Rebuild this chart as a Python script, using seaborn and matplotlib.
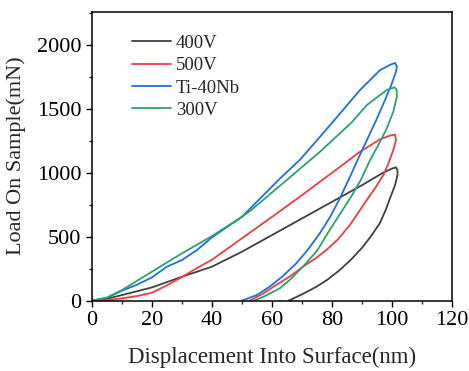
import numpy as np
import pandas as pd
import matplotlib
matplotlib.use("Agg")
import matplotlib.pyplot as plt
from matplotlib.ticker import MultipleLocator
import seaborn as sns

# load-displacement curves (loading then unloading)
disp_400v = [0, 5, 10, 20, 30, 40, 50, 60, 70, 80, 90, 97, 100, 101.3,
             101.8, 101.8, 101.0, 99.3, 97.8, 95.9, 93.0, 90.3, 86.5, 82.6, 78.5, 74.8, 70.0, 65.5]
load_400v = [0, 15, 44, 104, 187, 266, 383, 513, 643, 773, 903, 1000, 1033, 1042,
             1020, 982, 904, 800, 705, 605, 505, 422, 325, 240, 165, 109, 50, 0]

disp_500v = [0, 5, 10, 15, 20, 25, 30, 35, 40, 50, 60, 70, 76, 82.7, 89.3, 96, 99.5, 101,
             101.3, 100.4, 98.8, 97.1, 94.3, 91.6, 88.5, 85.9, 82.0, 78.1, 74.5, 70.3, 66.0, 61.4, 57.0, 52.5]
load_500v = [0, 4, 18, 36, 62, 120, 185, 255, 320, 488, 655, 825, 930, 1047, 1164, 1261, 1292, 1298,
             1256, 1177, 1073, 982, 878, 787, 680, 590, 480, 396, 330, 266, 190, 123, 55, 0]

disp_ti40nb = [0, 5, 10, 15, 20, 25, 30, 35, 40, 50, 62.7, 69.2, 76, 82.7, 89.3, 96, 99.5, 101,
               101.6, 101.3, 99.8, 97.5, 94.5, 91.5, 88.5, 86, 82.7, 79.5, 75.9, 72.0, 68.1,
               63.5, 59.2, 55.0, 50]
load_ti40nb = [0, 22, 78, 125, 182, 266, 318, 396, 495, 656, 956, 1099, 1281, 1464, 1646, 1802, 1845, 1858,
               1830, 1790, 1690, 1560, 1400, 1250, 1100, 969, 805, 660, 526, 400, 292,
               190, 109, 45, 0]

disp_300v = [0, 5, 10, 20, 30, 40, 50, 52.8, 64.9, 76, 82.7, 86.6, 91.6, 98.2, 100.8,
             101.5, 101.6, 100.4, 98.2, 95.5, 92.7, 89.5, 86.8, 83.0, 79.2, 75.0, 70.3,
             66.5, 62.6, 58.0, 54]
load_300v = [0, 25, 83, 227, 370, 505, 656, 703, 943, 1164, 1310, 1395, 1529, 1646, 1668,
             1650, 1594, 1477, 1345, 1220, 1100, 940, 830, 690, 552, 390, 266,
             175, 97, 40, 0]

labels = ["400V", "500V", "Ti-40Nb", "300V"]
colors = ["#404040", "#f03c3c", "#1e6ee6", "#2ba36a"]

curves = [(disp_400v, load_400v), (disp_500v, load_500v),
          (disp_ti40nb, load_ti40nb), (disp_300v, load_300v)]

sns.set_theme(style="ticks")
plt.rcParams["font.family"] = ["Liberation Serif", "DejaVu Serif"]

fig = plt.figure(figsize=(4.69, 3.71), dpi=100)
ax = fig.add_axes([0.196, 0.1895, 0.768, 0.7795])

for (d, l), lab, c in zip(curves, labels, colors):
    df = pd.DataFrame({"disp": d, "load": l})
    sns.lineplot(data=df, x="disp", y="load", sort=False, estimator=None,
                 color=c, linewidth=1.3, label=lab, ax=ax)

ax.set_xlim(0, 120)
ax.set_ylim(0, 2260)
ax.xaxis.set_major_locator(MultipleLocator(20))
ax.xaxis.set_minor_locator(MultipleLocator(10))
ax.yaxis.set_major_locator(MultipleLocator(500))
ax.yaxis.set_minor_locator(MultipleLocator(250))
ax.tick_params(which="major", direction="out", length=4.5, width=1.0,
               labelsize=16, pad=3, colors="black", top=False, right=False)
ax.tick_params(which="minor", direction="out", length=2.5, width=1.0,
               top=False, right=False)
for side in ["top", "right", "left", "bottom"]:
    ax.spines[side].set_visible(True)
    ax.spines[side].set_linewidth(1.1)
    ax.spines[side].set_color("black")

ax.set_xlabel("Displacement Into Surface(nm)", fontsize=16.5, labelpad=12)
ax.set_ylabel("Load On Sample(mN)", fontsize=16, labelpad=8)

ax.legend(loc="upper left", bbox_to_anchor=(0.11, 0.92), frameon=False,
          fontsize=13.5, handlelength=2.1, handletextpad=0.27, labelspacing=0.28,
          borderpad=0, borderaxespad=0)

fig.savefig("out.png", dpi=100)
